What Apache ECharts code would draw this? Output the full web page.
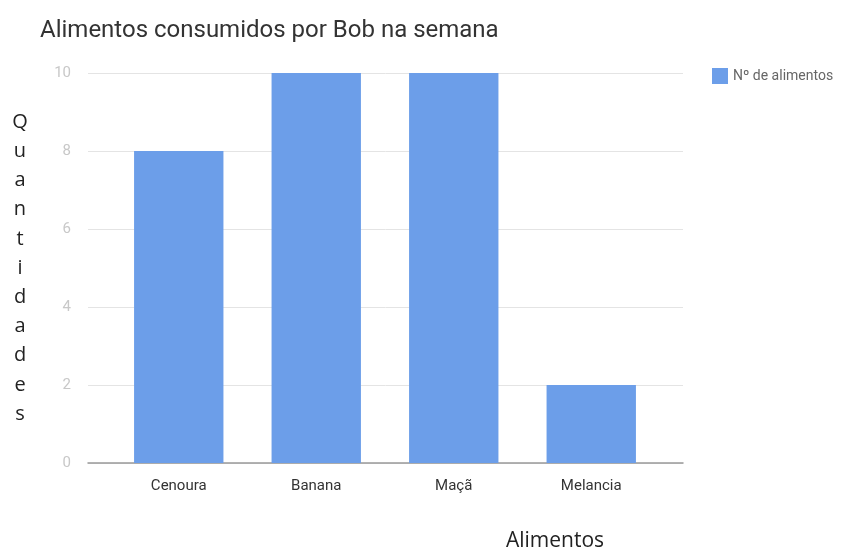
<!DOCTYPE html>
<html><head><meta charset="utf-8">
<script src="https://cdn.jsdelivr.net/npm/echarts@6/dist/echarts.min.js"></script>
<style>html,body{margin:0;padding:0;background:#fff}#c{width:855px;height:550px}</style>
</head><body><div id="c"></div>
<script>
const categories = ["Cenoura", "Banana", "Maçã", "Melancia"];
const values = [8, 10, 10, 2];
const seriesName = "Nº de alimentos";
const titleText = "Alimentos consumidos por Bob na semana";
const xName = "Alimentos";
const yName = "Quantidades";
const yTicks = [0, 2, 4, 6, 8, 10];

const chart = echarts.init(document.getElementById('c'), null, {renderer: 'canvas'});
chart.setOption({
  animation: false,
  backgroundColor: '#fff',
  title: [
    {text: titleText, left: 35, top: 14, textStyle: {fontFamily: 'Roboto', fontSize: 24, fontWeight: 'normal', color: '#333'}},
    {text: xName, left: 550, top: 526, textAlign: 'center', textStyle: {fontFamily: 'Open Sans', fontSize: 21, fontWeight: 'normal', color: '#222'}}
  ],
  legend: {
    data: [seriesName], left: 707, top: 63, icon: 'rect', itemWidth: 16, itemHeight: 16, itemGap: 8,
    textStyle: {fontFamily: 'Roboto', fontSize: 14, color: '#666'}
  },
  grid: [
    {left: 88, right: 172, top: 73, bottom: 87},
    {left: 110, right: 195, top: 73, bottom: 87}
  ],
  xAxis: [
    {gridIndex: 0, type: 'category', data: categories, axisLine: {show: true, lineStyle: {color: '#999', width: 1.5}}, axisTick: {show: false}, axisLabel: {show: false}},
    {gridIndex: 1, type: 'category', data: categories, axisLine: {show: false}, axisTick: {show: false},
     axisLabel: {margin: 16, fontFamily: 'Roboto', fontSize: 15, color: '#333'}}
  ],
  yAxis: [
    {gridIndex: 0, type: 'value', min: yTicks[0], max: yTicks[yTicks.length - 1], interval: 2,
     name: yName.split('').join('\n'), nameLocation: 'middle', nameRotate: 0, nameGap: 68,
     nameTextStyle: {fontFamily: 'Open Sans', fontSize: 20, color: '#222', lineHeight: 29.2, align: 'center', verticalAlign: 'middle'},
     axisLine: {show: false}, axisTick: {show: false},
     axisLabel: {margin: 17, fontFamily: 'Roboto', fontSize: 15, color: '#c8c8c8'},
     splitLine: {lineStyle: {color: '#e4e4e4', width: 1}}},
    {gridIndex: 1, type: 'value', min: 0, max: 10, interval: 2, show: false, splitLine: {show: false}}
  ],
  series: [{
    name: seriesName, type: 'bar', xAxisIndex: 1, yAxisIndex: 1, data: values,
    barWidth: '65%', itemStyle: {color: '#6c9ee9'}
  }]
});
</script></body></html>
